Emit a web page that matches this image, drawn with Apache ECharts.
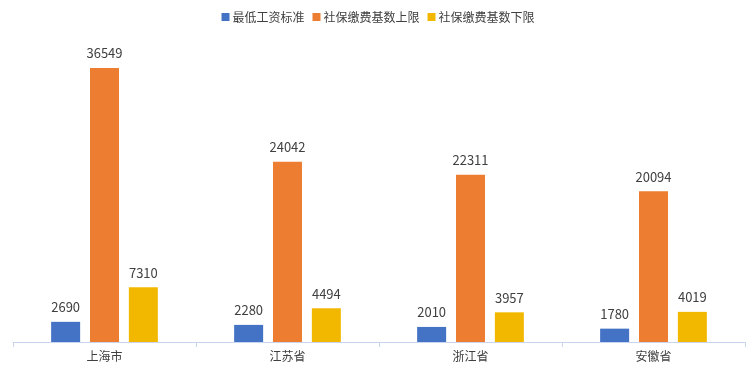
<!DOCTYPE html>
<html><head><meta charset="utf-8">
<script src="https://cdn.jsdelivr.net/npm/echarts@6/dist/echarts.min.js"></script>
<style>html,body{margin:0;padding:0;background:#fff}#c{width:756px;height:372px}</style>
</head><body><div id="c"></div>
<script>
const categories = ['上海市', '江苏省', '浙江省', '安徽省'];
const minWage = [2690, 2280, 2010, 1780];
const upperBase = [36549, 24042, 22311, 20094];
const lowerBase = [7310, 4494, 3957, 4019];
const seriesNames = ['最低工资标准', '社保缴费基数上限', '社保缴费基数下限'];

const font = '"Noto Sans CJK SC", "Microsoft YaHei", sans-serif';
const chart = echarts.init(document.getElementById('c'));
const lbl = {show: true, position: 'top', distance: 8, color: '#404040', fontSize: 13, fontFamily: font};
chart.setOption({
  animation: false,
  color: ['#4472C4', '#ED7D31', '#F2B800'],
  legend: {
    top: 6, left: 'center', itemWidth: 8, itemHeight: 8, itemGap: 8,
    icon: 'rect',
    textStyle: {color: '#404040', fontSize: 12, fontFamily: font, padding: [0,0,0,-2]},
    data: seriesNames
  },
  grid: {left: 13, right: 11, top: 42, bottom: 30, containLabel: false},
  xAxis: {
    type: 'category', data: categories,
    axisLine: {lineStyle: {color: '#C9D5EC'}},
    axisTick: {show: true, length: 5, lineStyle: {color: '#C9D5EC'}},
    axisLabel: {color: '#404040', fontSize: 12, fontFamily: font, margin: 8}
  },
  yAxis: {type: 'value', min: 0, max: 40000, show: false, splitLine: {show: false}},
  series: [
    {name: seriesNames[0], type: 'bar', data: minWage, barWidth: 29, barGap: '34%', label: lbl},
    {name: seriesNames[1], type: 'bar', data: upperBase, barWidth: 29, barGap: '34%', label: lbl},
    {name: seriesNames[2], type: 'bar', data: lowerBase, barWidth: 29, barGap: '34%', label: lbl}
  ]
});
</script></body></html>
